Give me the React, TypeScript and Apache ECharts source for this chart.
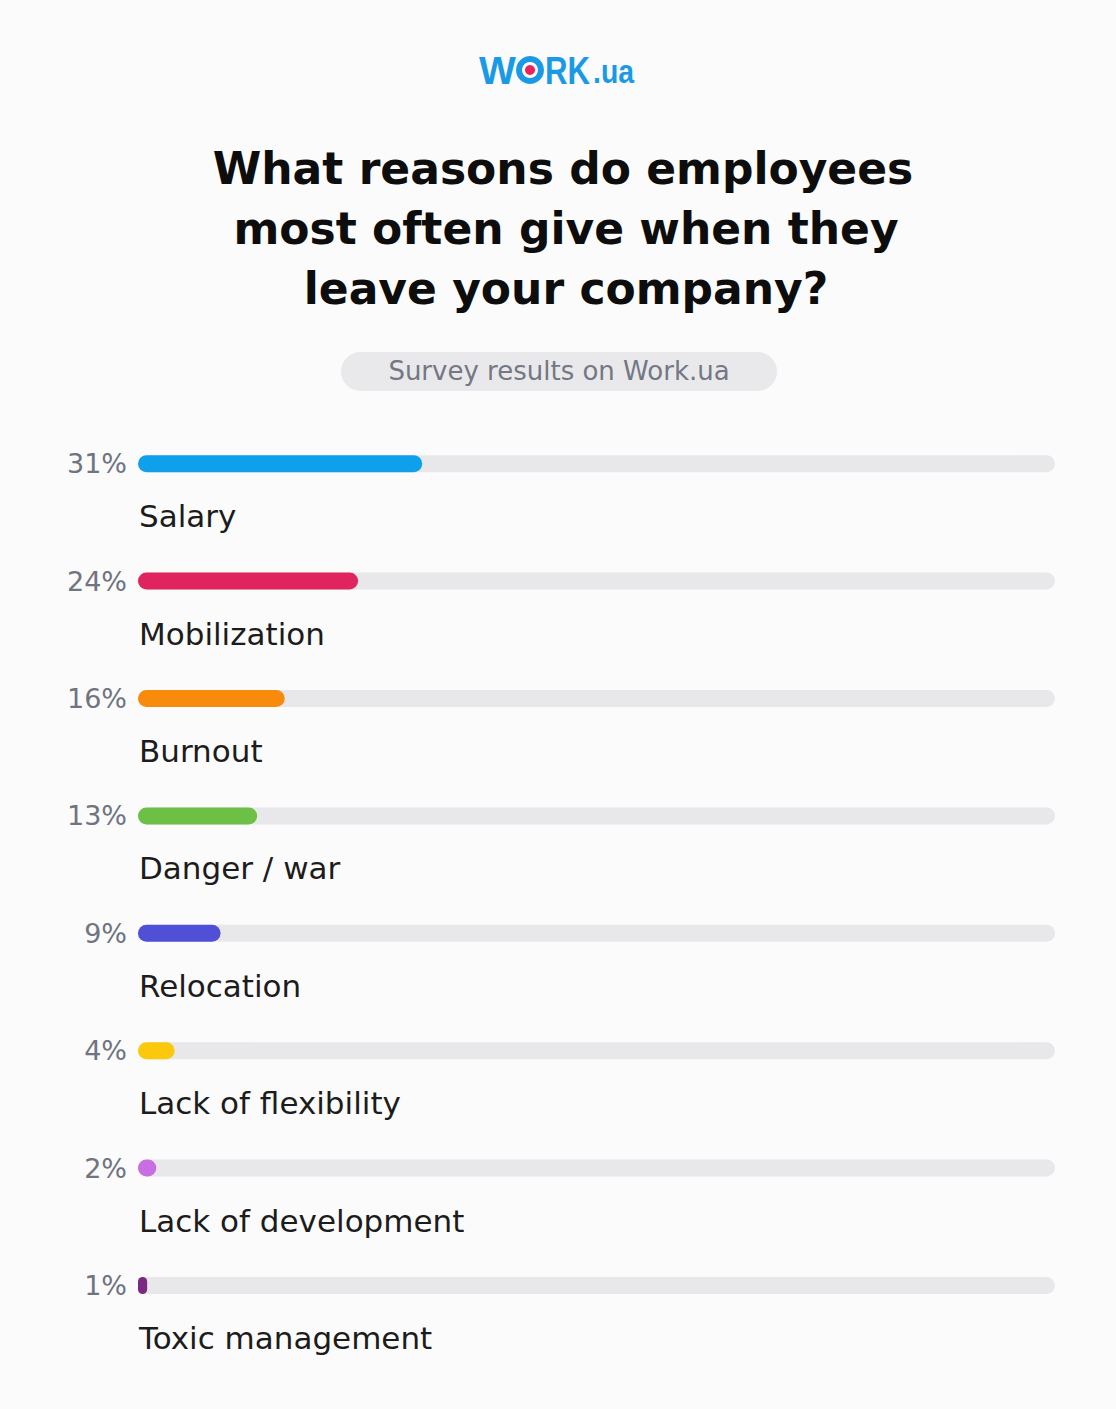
import React, { useEffect, useRef } from "react";
import * as echarts from "echarts";

// Survey answers, top to bottom
const reasons = [
  "Salary",
  "Mobilization",
  "Burnout",
  "Danger / war",
  "Relocation",
  "Lack of flexibility",
  "Lack of development",
  "Toxic management",
];
const shares = [31, 24, 16, 13, 9, 4, 2, 1];
const barColors = [
  "#0ea0ea",
  "#e0245f",
  "#f88a0c",
  "#6cc046",
  "#5050d6",
  "#fcc80c",
  "#c96ee0",
  "#7b2a82",
];
const titleLines = [
  "What reasons do employees",
  "most often give when they",
  "leave your company?",
];
const subtitle = "Survey results on Work.ua";

const FONT = "'DejaVu Sans', 'Noto Sans', sans-serif";
const LOGO_FONT = "'Liberation Sans', Arial, sans-serif";
const LOGO_BLUE = "#1a9ae6";
const W = 1116;
const H = 1409;

export default function App() {
  const ref = useRef<HTMLDivElement>(null);

  useEffect(() => {
    if (!ref.current) return;
    const chart = echarts.init(ref.current, null, { renderer: "svg" });

    const gridTop = 405;
    const rowH = 117.4;

    chart.setOption({
      animation: false,
      backgroundColor: "#fbfbfb",
      grid: {
        left: 138,
        right: W - 1055,
        top: gridTop,
        height: rowH * reasons.length,
        containLabel: false,
      },
      xAxis: {
        type: "value",
        min: 0,
        max: 100,
        show: false,
      },
      yAxis: {
        type: "category",
        inverse: true,
        data: reasons,
        axisLine: { show: false },
        axisTick: { show: false },
        splitLine: { show: false },
        axisLabel: {
          margin: 11,
          fontFamily: FONT,
          fontSize: 27,
          color: "#6f7480",
          formatter: (_v: string, i: number) => `${shares[i]}%`,
        },
      },
      series: [
        {
          type: "bar",
          data: shares.map((v, i) => ({
            value: v,
            itemStyle: { color: barColors[i] },
          })),
          barWidth: 17,
          showBackground: true,
          backgroundStyle: { color: "#e8e8eb", borderRadius: 9 },
          itemStyle: { borderRadius: 9 },
          label: {
            show: true,
            position: [1, 61],
            verticalAlign: "middle",
            align: "left",
            fontFamily: FONT,
            fontSize: 31,
            color: "#1c1c1c",
            formatter: (p: any) => reasons[p.dataIndex],
          },
        },
      ],
      graphic: [
        // logo: W, target-shaped O, RK, .ua
        {
          type: "text",
          x: 479,
          y: 70,
          style: {
            text: "W",
            font: `bold 39px ${LOGO_FONT}`,
            fill: LOGO_BLUE,
            textVerticalAlign: "middle",
          },
        },
        {
          type: "ring",
          shape: { cx: 530, cy: 70, r: 14, r0: 8 },
          style: { fill: LOGO_BLUE },
        },
        {
          type: "circle",
          shape: { cx: 530, cy: 70, r: 5 },
          style: { fill: "#e8245a" },
        },
        {
          type: "text",
          x: 545,
          y: 70,
          scaleX: 0.8,
          style: {
            text: "RK",
            font: `bold 39px ${LOGO_FONT}`,
            fill: LOGO_BLUE,
            textVerticalAlign: "middle",
          },
        },
        {
          type: "text",
          x: 593,
          y: 72,
          scaleX: 0.86,
          style: {
            text: ".ua",
            font: `bold 33px ${LOGO_FONT}`,
            fill: LOGO_BLUE,
            textVerticalAlign: "middle",
          },
        },
        // title
        ...titleLines.map((t, i) => ({
          type: "text",
          x: i === 0 ? 563 : 566,
          y: 168 + i * 60,
          style: {
            text: t,
            font: `bold 44px ${FONT}`,
            fill: "#0d0d0d",
            textAlign: "center",
            textVerticalAlign: "middle",
          },
        })),
        // subtitle pill
        {
          type: "rect",
          shape: { x: 341, y: 352, width: 436, height: 39, r: 19.5 },
          style: { fill: "#e9e9eb" },
        },
        {
          type: "text",
          x: 559,
          y: 371,
          style: {
            text: subtitle,
            font: `26px ${FONT}`,
            fill: "#737884",
            textAlign: "center",
            textVerticalAlign: "middle",
          },
        },
      ],
    });

    return () => chart.dispose();
  }, []);

  return (
    <div
      ref={ref}
      style={{ position: "absolute", left: 0, top: 0, width: W, height: H }}
    />
  );
}
